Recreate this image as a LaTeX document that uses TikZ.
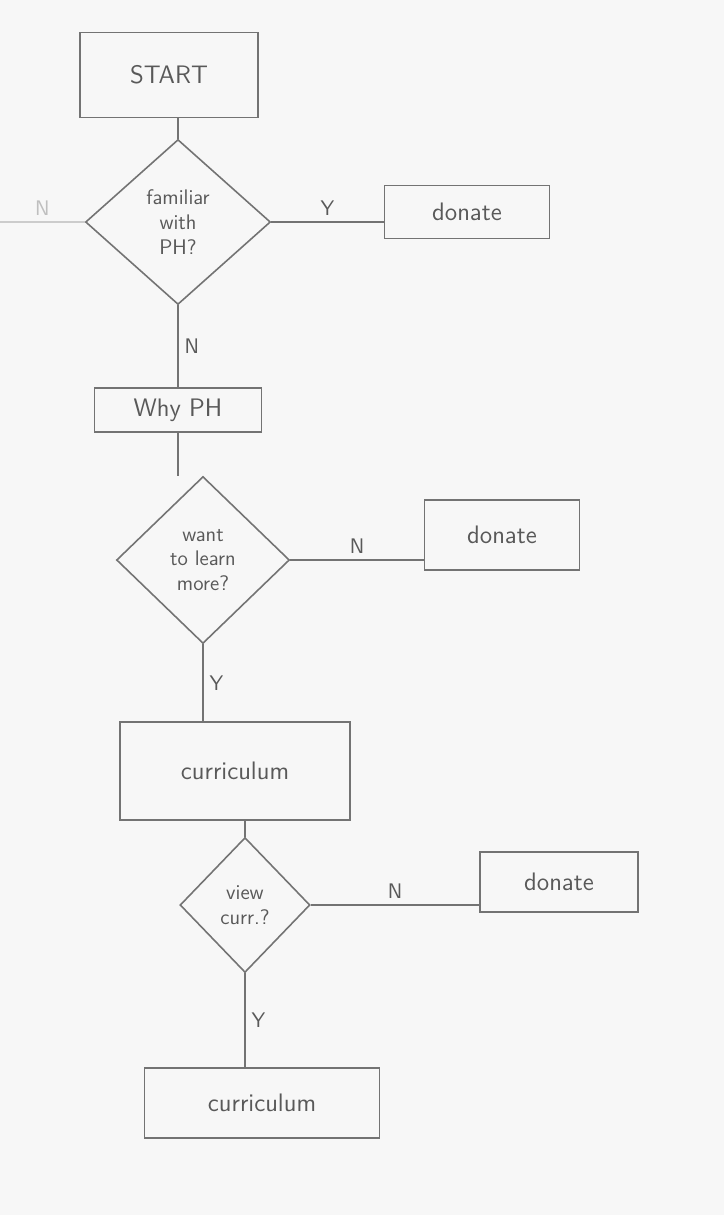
\documentclass[tikz,border=0pt]{standalone}
\usetikzlibrary{shapes.geometric}
\tikzset{
  pencil/.style={draw=black!55, line width=0.9pt},
  stepbox/.style={pencil, rectangle, inner sep=0pt, text=black!65, font=\sffamily\Large},
  decide/.style={pencil, diamond, inner sep=0pt, text=black!65, font=\sffamily\large, align=center},
  lbl/.style={text=black!65, font=\sffamily\large}
}
\begin{document}
\begin{tikzpicture}[x=0.02cm, y=-0.02cm]
  \useasboundingbox (0,0) rectangle (724,1215);
  \fill[black!3] (0,0) rectangle (724,1215);
  \node[stepbox, minimum width=3.56cm, minimum height=1.7cm] (start) at (169,75) {START};
  \node[decide, minimum width=3.7cm, minimum height=3.3cm] (fam) at (178,222) {familiar\\with\\PH?};
  \node[stepbox, minimum width=3.3cm, minimum height=1.06cm] (don1) at (467,212) {donate};
  \node[stepbox, minimum width=3.34cm, minimum height=0.88cm] (why) at (178,410) {Why PH};
  \node[decide, minimum width=3.46cm, minimum height=3.34cm] (learn) at (203,560) {want\\to learn\\more?};
  \node[stepbox, minimum width=3.1cm, minimum height=1.4cm] (don2) at (502,535) {donate};
  \node[stepbox, minimum width=4.6cm, minimum height=1.96cm] (curr1) at (235,771) {curriculum};
  \node[decide, minimum width=2.6cm, minimum height=2.7cm] (view) at (245,905) {view\\curr.?};
  \node[stepbox, minimum width=3.16cm, minimum height=1.2cm] (don3) at (559,882) {donate};
  \node[stepbox, minimum width=4.7cm, minimum height=1.4cm] (curr2) at (262,1103) {curriculum};
  \coordinate (left) at (0,222);

  \draw[pencil] (start.south -| fam.north) -- (fam.north);
  \draw[pencil] (fam.east) -- node[lbl, above] {Y} (fam.east -| don1.west);
  \draw[black!20, line width=0.9pt] (left) -- node[above, text=black!25, font=\sffamily\large] {N} (fam.west);
  \draw[pencil] (fam.south) -- node[lbl, right] {N} (fam.south |- why.north);
  \draw[pencil] (why.south) -- (why.south |- learn.north);
  \draw[pencil] (learn.east) -- node[lbl, above] {N} (learn.east -| don2.west);
  \draw[pencil] (learn.south) -- node[lbl, right] {Y} (curr1.north -| learn.south);
  \draw[pencil] (curr1.south -| view.north) -- (view.north);
  \draw[pencil] (view.east) -- node[lbl, above] {N} (view.east -| don3.west);
  \draw[pencil] (view.south) -- node[lbl, right] {Y} (curr2.north -| view.south);
\end{tikzpicture}
\end{document}
